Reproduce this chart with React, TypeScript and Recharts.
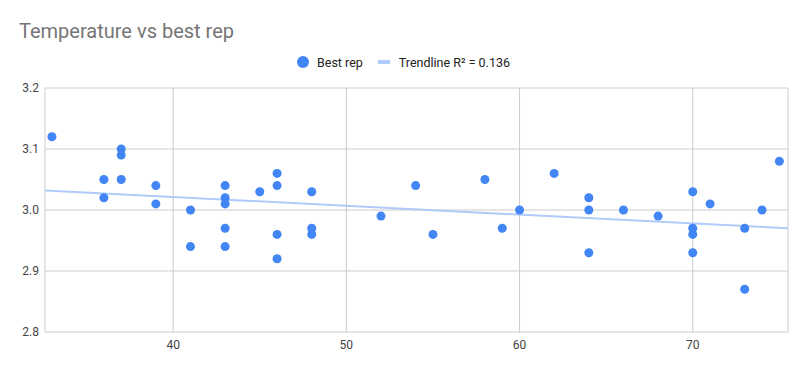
import { ScatterChart, Scatter, XAxis, YAxis, CartesianGrid, ReferenceLine } from 'recharts';

const temperatures = [
  33, 36, 36, 37, 37, 37, 39, 39, 41, 41, 43, 43, 43, 43, 43, 45, 46, 46, 46, 46, 48, 48, 48,
  52, 54, 55, 58, 59, 60, 62, 64, 64, 64, 66, 68, 70, 70, 70, 70, 71, 73, 73, 74, 75,
];
const bestReps = [
  3.12, 3.05, 3.02, 3.1, 3.09, 3.05, 3.04, 3.01, 3.0, 2.94, 3.04, 3.02, 3.01, 2.97, 2.94, 3.03,
  3.06, 3.04, 2.96, 2.92, 3.03, 2.97, 2.96, 2.99, 3.04, 2.96, 3.05, 2.97, 3.0, 3.06, 3.02, 3.0,
  2.93, 3.0, 2.99, 3.03, 2.97, 2.96, 2.93, 3.01, 2.97, 2.87, 3.0, 3.08,
];
const trendStart = { x: 32.6, y: 3.032 };
const trendEnd = { x: 75.5, y: 2.97 };
const xTicks = [40, 50, 60, 70];
const yTicks = [2.8, 2.9, 3.0, 3.1, 3.2];

const points = temperatures.map((t, i) => ({ temp: t, rep: bestReps[i] }));

const BLUE = '#4285f4';
const TREND = '#aecbfa';
const FONT = 'Roboto, Arial, sans-serif';

const Dot = (props: any) => <circle cx={props.cx} cy={props.cy} r={4.5} fill={BLUE} />;

export default function App() {
  return (
    <div style={{ position: 'absolute', left: 0, top: 0, width: 807, height: 371, background: '#fff', fontFamily: FONT }}>
      <div style={{ position: 'absolute', left: 19, top: 21, fontSize: 20, lineHeight: '20px', color: '#757575' }}>
        Temperature vs best rep
      </div>
      <div
        style={{
          position: 'absolute',
          left: 297,
          top: 54,
          height: 16,
          display: 'flex',
          alignItems: 'center',
          fontSize: 12.5,
          color: '#222',
        }}
      >
        <span style={{ width: 12, height: 12, borderRadius: 6, background: BLUE, marginRight: 8 }} />
        <span>Best rep</span>
        <span style={{ width: 12, height: 4, background: TREND, marginLeft: 15, marginRight: 9 }} />
        <span>Trendline R² = 0.136</span>
      </div>
      <ScatterChart width={807} height={371} margin={{ top: 88, right: 19, left: 5, bottom: 14 }}>
        <CartesianGrid stroke="#cccccc" />
        <XAxis
          type="number"
          dataKey="temp"
          domain={[32.6, 75.5]}
          ticks={xTicks}
          axisLine={false}
          tickLine={false}
          height={25}
          tick={{ fontSize: 12, fill: '#444', fontFamily: FONT }}
        />
        <YAxis
          type="number"
          dataKey="rep"
          domain={[2.8, 3.2]}
          ticks={yTicks}
          tickFormatter={(v: number) => v.toFixed(1)}
          axisLine={false}
          tickLine={false}
          tickMargin={0}
          width={40}
          tick={{ fontSize: 12, fill: '#444', fontFamily: FONT }}
        />
        <ReferenceLine
          segment={[trendStart, trendEnd]}
          stroke={TREND}
          strokeWidth={2}
        />
        <Scatter data={points} fill={BLUE} shape={Dot} isAnimationActive={false} />
      </ScatterChart>
    </div>
  );
}
